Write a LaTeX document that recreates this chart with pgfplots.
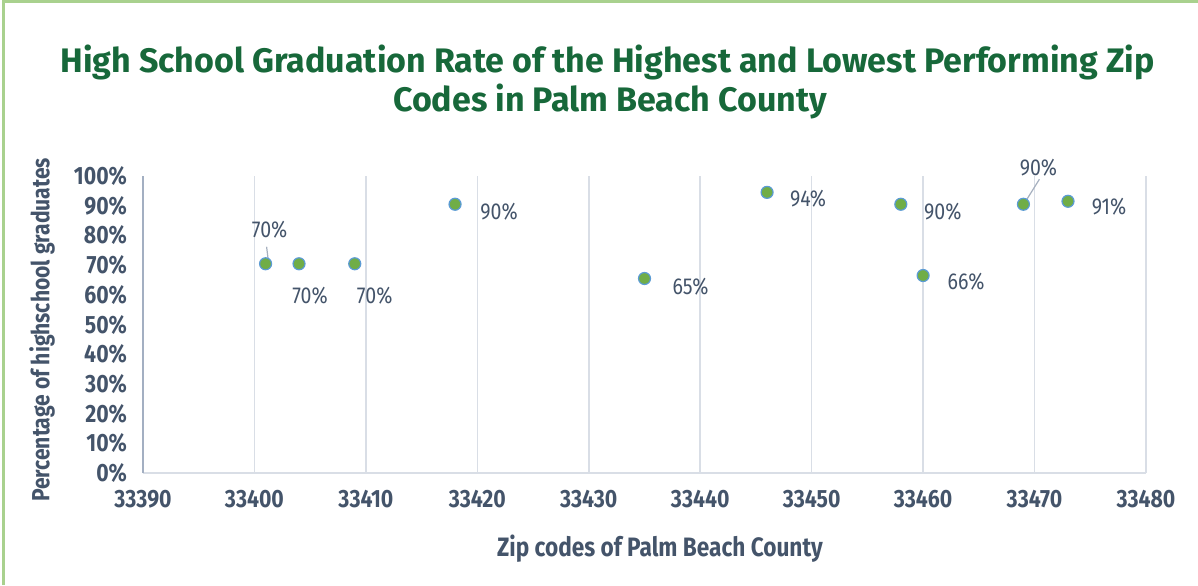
\documentclass[border=0pt]{standalone}
\usepackage{pgfplots}
\pgfplotsset{compat=1.18}
\usepackage{fontspec}
\setmainfont{Fira Sans}
\newfontfamily\condfont{Fira Sans}[FakeStretch=0.85]
\definecolor{txt}{HTML}{44546A}
\definecolor{ttl}{HTML}{17683A}
\definecolor{mfill}{HTML}{70AD47}
\definecolor{medge}{HTML}{5B9BD5}
\definecolor{gridc}{HTML}{D9DEE6}
\definecolor{yax}{HTML}{A3AFC2}
\definecolor{framec}{HTML}{A9D18E}
\definecolor{leader}{HTML}{A6B0BF}

\pgfplotstableread{
x y dx dy
33401 70.45 2 17
33404 70.45 5.5 -16
33409 70.45 10 -16
33418 90.49 22 -3.5
33435 65.49 23 -4
33446 94.49 20.5 -3
33458 90.49 21 -3.5
33460 66.49 21.5 -3
33469 90.49 7.5 18.5
33473 91.49 20.5 -2.5
}\data

\begin{document}
\begin{tikzpicture}
\useasboundingbox (0,0) rectangle (599pt,292.5pt);
\draw[framec, line width=1.5pt] (1.5pt,0) -- (1.5pt,291.5pt) -- (599pt,291.5pt);
\node[font=\bfseries\fontsize{17}{20}\selectfont, text=ttl] at (303.75pt,261.5pt) {High School Graduation Rate of the Highest and Lowest Performing Zip};
\node[font=\bfseries\fontsize{17}{20}\selectfont, text=ttl] at (305pt,242pt) {Codes in Palm Beach County};
\node[rotate=90, font=\condfont\bfseries\fontsize{12.4}{14}\selectfont, text=txt] at (21pt,127.5pt) {Percentage of highschool graduates};
\node[font=\condfont\bfseries\fontsize{13.3}{15}\selectfont, text=txt] at (330pt,18pt) {Zip codes of Palm Beach County};
\begin{axis}[at={(71.5pt,56pt)}, anchor=south west, scale only axis,
  width=501.5pt, height=148.5pt,
  xmin=33390, xmax=33480, ymin=0, ymax=100,
  xtick={33390,33400,...,33480}, ytick={0,10,...,100},
  scaled ticks=false,
  axis x line=bottom, axis y line=left, axis line style={-},
  x axis line style={gridc, line width=0.8pt},
  y axis line style={yax, line width=0.8pt},
  xmajorgrids, grid style={gridc, line width=0.8pt},
  major tick length=0pt,
  clip=false,
  /pgf/number format/assume math mode=true,
  ticklabel style={font=\condfont\bfseries\fontsize{12.5}{14}\selectfont, text=txt},
  xticklabel={\pgfmathprintnumber[1000 sep={},fixed,precision=0]{\tick}},
  yticklabel={\pgfmathprintnumber{\tick}\%},
  x tick label style={yshift=-5.2pt},
  y tick label style={xshift=-4.5pt},
]
\draw[leader, line width=0.6pt] ([shift={(1.5pt,0.5pt)}]axis cs:33401,70.45) -- ([shift={(0.5pt,8.5pt)}]axis cs:33401,70.45);
\draw[leader, line width=0.6pt] ([shift={(0.5pt,0.5pt)}]axis cs:33469,90.49) -- ([shift={(8pt,12.5pt)}]axis cs:33469,90.49);
\addplot[only marks, mark=*, mark size=3pt,
  mark options={fill=mfill, draw=medge, line width=0.6pt},
  point meta=y,
  visualization depends on={\thisrow{dx}\as\dx},
  visualization depends on={\thisrow{dy}\as\dy},
  nodes near coords={\pgfmathprintnumber[fixed,precision=0]{\pgfplotspointmeta}\%},
  nodes near coords style={anchor=center, xshift=\dx pt, yshift=\dy pt,
    font=\condfont\fontsize{11.5}{13}\selectfont, text=txt, /pgf/number format/assume math mode=true},
] table[x=x,y=y]{\data};
\end{axis}
\end{tikzpicture}
\end{document}
